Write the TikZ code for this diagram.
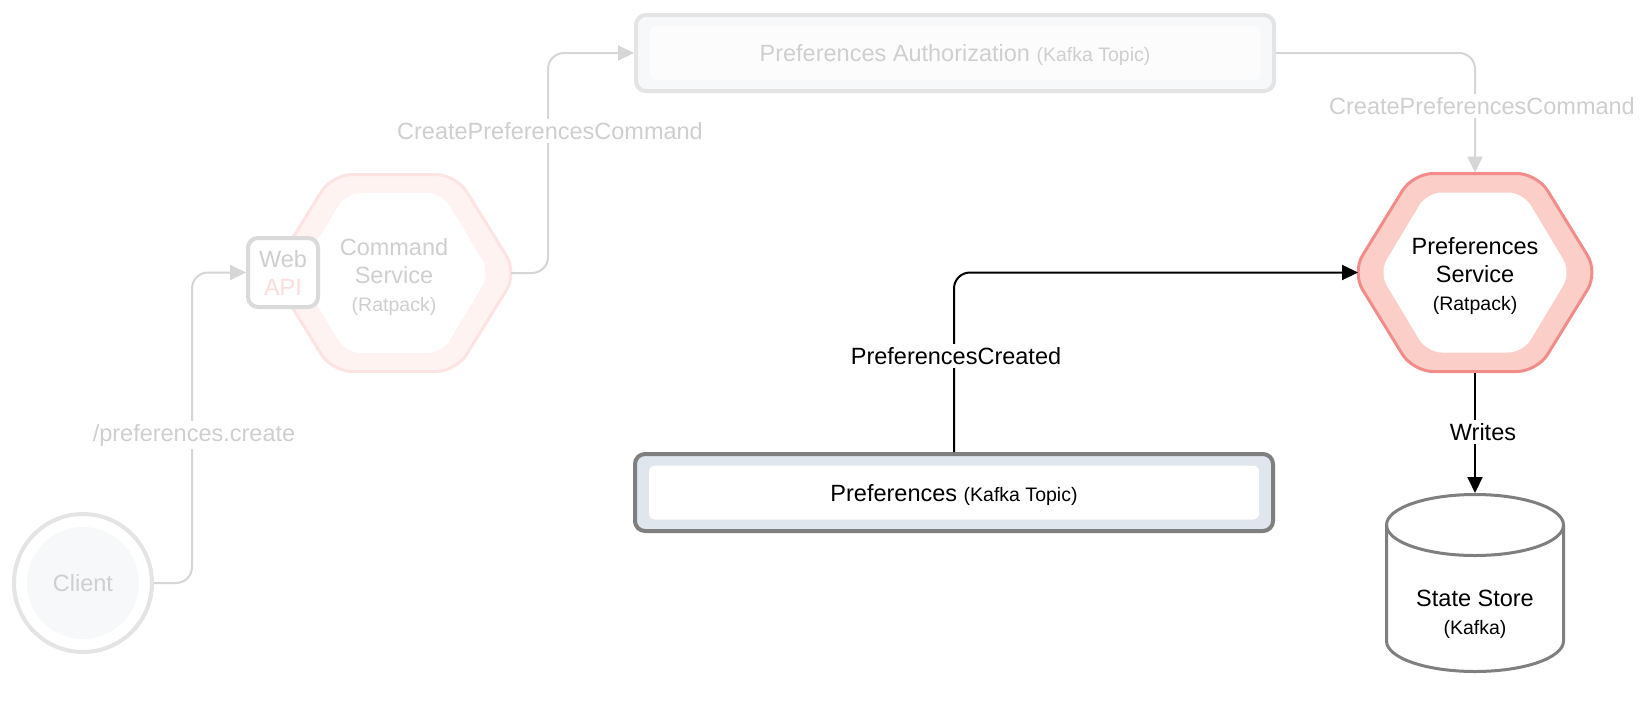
\documentclass[tikz,border=0pt]{standalone}
\usepackage{fontspec}
\setmainfont{Liberation Sans}
\usetikzlibrary{arrows.meta,calc}
\definecolor{fadeln}{HTML}{D6D6D6}
\definecolor{fadetx}{HTML}{CFCFCF}
\definecolor{ringred}{HTML}{FBCFC8}
\definecolor{strokered}{HTML}{F28C8A}
\definecolor{fadering}{HTML}{FFF3F2}
\definecolor{fadestroke}{HTML}{FDE3E1}
\definecolor{boxgrey}{HTML}{7F7F7F}
\definecolor{boxring}{HTML}{DFE6EE}
\definecolor{lightstroke}{HTML}{E4E4E4}
\definecolor{lightring}{HTML}{F7F8FA}
\definecolor{lightin}{HTML}{FCFCFD}
\definecolor{webstroke}{HTML}{DADADA}
\definecolor{apipink}{HTML}{FCDCDC}
\newcommand{\bigf}{\fontsize{23.5}{28}\selectfont}
\newcommand{\smallf}{\fontsize{19.5}{24}\selectfont}
\tikzset{
  hexnode/.style={minimum width=234pt, minimum height=200pt, inner sep=0pt, outer sep=0pt},
  hextext/.style={align=center, font=\bigf, inner sep=0pt},
  fadearrow/.style={draw=fadeln, line width=2pt, rounded corners=16pt, -{Triangle[length=16pt,width=15pt,fill=fadeln]}},
  blackarrow/.style={draw=black, line width=2pt, rounded corners=16pt, -{Triangle[length=16pt,width=15pt]}},
  fadelbl/.style={fill=white, inner sep=3pt, text=fadetx, font=\bigf},
  blacklbl/.style={fill=white, inner sep=3pt, text=black, font=\bigf},
  topicbox/.style={line width=4pt, rounded corners=10pt, minimum width=638pt, inner sep=0pt, font=\bigf, text depth=0pt}
}
\begin{document}
\begin{tikzpicture}[x=1pt,y=-1pt]
\useasboundingbox (0,0) rectangle (1646,702);
\fill[white] (0,0) rectangle (1646,702);

% Command Service hexagon (faded)
\filldraw[fill=fadering, draw=fadestroke, line width=3pt, rounded corners=20pt]
  (271,273) -- (332,174.5) -- (456,174.5) -- (517,273) -- (456,371.5) -- (332,371.5) -- cycle;
\fill[white, rounded corners=15pt]
  (298,273) -- (346,193) -- (442,193) -- (490,273) -- (442,353) -- (346,353) -- cycle;
\node[hexnode] (cmdsvc) at (394,273) {};
\node[hextext, text=fadetx] (cmdtxt) at (394,277) {Command\\Service\\{\smallf (Ratpack)}};

% Preferences Service hexagon
\filldraw[fill=ringred, draw=strokered, line width=3pt, rounded corners=20pt]
  (1352,272.5) -- (1413,173.5) -- (1537,173.5) -- (1598,272.5) -- (1537,371.5) -- (1413,371.5) -- cycle;
\fill[white, rounded corners=15pt]
  (1379,272.5) -- (1427,192.5) -- (1523,192.5) -- (1571,272.5) -- (1523,352.5) -- (1427,352.5) -- cycle;
\node[hexnode] (prefsvc) at (1475,272.5) {};
\node[hextext] (prefsvctxt) at (1475,276.5) {Preferences\\Service\\{\smallf (Ratpack)}};

% State store cylinder
\filldraw[fill=white, draw=boxgrey, line width=3pt]
  (1386.5,525) -- (1386.5,641) arc[start angle=180, end angle=0, x radius=88.5, y radius=30.5]
  -- (1563.5,525) arc[start angle=0, end angle=-180, x radius=88.5, y radius=30.5] -- cycle;
\draw[boxgrey, line width=3pt] (1386.5,525) arc[start angle=180, end angle=0, x radius=88.5, y radius=30.5];
\node[minimum width=180pt, minimum height=180pt, inner sep=0pt, outer sep=0pt] (store) at (1475,583) {};
\node[font=\bigf, align=center] (storetxt) at (1475,614) {State Store\\{\smallf (Kafka)}};

% Client
\node[circle, draw=lightstroke, line width=4pt, fill=white, minimum size=138pt, inner sep=0pt,
  path picture={\fill[lightring] (path picture bounding box.center) circle[radius=56];},
  text=fadetx, font=\bigf, text depth=0pt] (client) at (83,583) {Client};

% Web API
\node[draw=webstroke, line width=4pt, fill=white, rounded corners=10pt, minimum width=70pt,
  minimum height=69pt, inner sep=0pt, align=center, font=\bigf] (webapi) at (283,272.5)
  {\textcolor{fadetx}{Web}\\\textcolor{apipink}{API}};

% Preferences Authorization topic (faded)
\node[topicbox, draw=lightstroke, fill=lightring, minimum height=76pt, text=fadetx,
  path picture={\fill[lightin, rounded corners=6pt]
    ($(path picture bounding box.center)+(-305.5,-27)$) rectangle ($(path picture bounding box.center)+(305.5,27)$);}]
  (auth) at (955,53) {Preferences Authorization {\smallf (Kafka Topic)}};

% Preferences topic
\node[topicbox, draw=boxgrey, fill=boxring, minimum height=77pt,
  path picture={\fill[white, rounded corners=6pt]
    ($(path picture bounding box.center)+(-305,-27)$) rectangle ($(path picture bounding box.center)+(305,27)$);}]
  (prefs) at (954,492.5) {Preferences {\smallf (Kafka Topic)}};

% connectors
\draw[fadearrow] (client.east) -- ++(38,0) |- (webapi.west);
\draw[fadearrow] (cmdsvc.east) -- ++(37,0) |- (auth.west);
\draw[fadearrow] (auth.east) -| (prefsvc.north);
\draw[blackarrow] (prefs.north) |- (prefsvc.west);
\draw[blackarrow] (prefsvc.south) -- (store.north);

% labels
\node[fadelbl] (lblcreate) at (194,435) {/preferences.create};
\node[fadelbl] (lblcmd1) at (550,131) {CreatePreferencesCommand};
\node[fadelbl] (lblcmd2) at (1482,106) {CreatePreferencesCommand};
\node[blacklbl] (lblcreated) at (956,356) {PreferencesCreated};
\node[blacklbl] (lblwrites) at (1483,432) {Writes};
\end{tikzpicture}
\end{document}
